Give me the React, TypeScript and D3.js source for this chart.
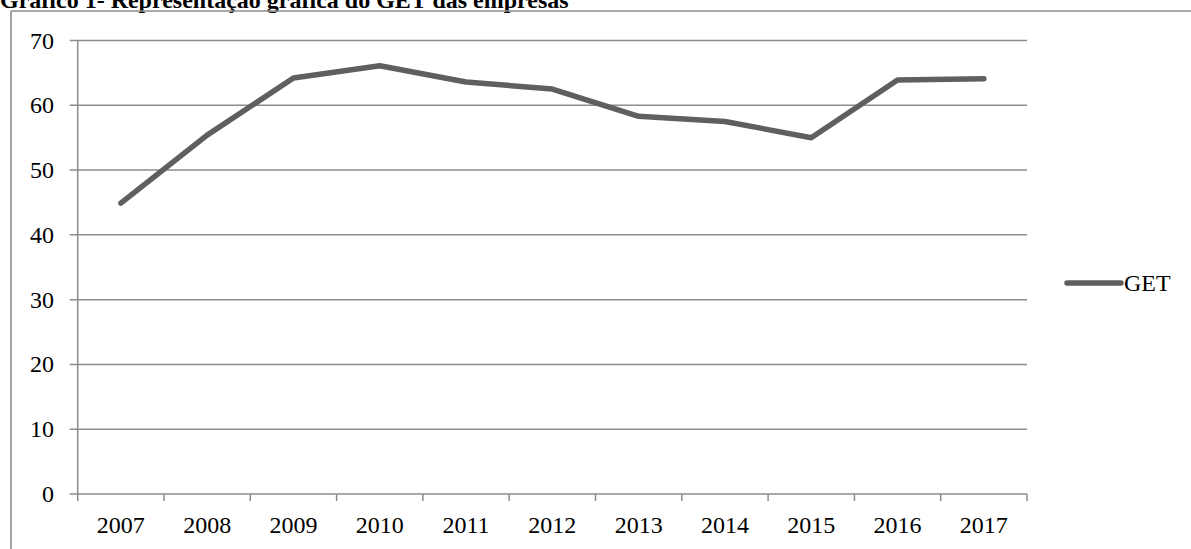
import React from "react";
import * as d3 from "d3";

const years = ["2007", "2008", "2009", "2010", "2011", "2012", "2013", "2014", "2015", "2016", "2017"];
const getValues = [44.9, 55.4, 64.2, 66.1, 63.6, 62.5, 58.3, 57.5, 55.0, 63.9, 64.1];
const yTicks = [0, 10, 20, 30, 40, 50, 60, 70];
const seriesName = "GET";
const title = "Gráfico 1- Representação gráfica do GET das empresas";

const W = 1191;
const H = 549;
const plot = { left: 77.7, right: 1027, top: 40.5, bottom: 494 };
const gridColor = "#8c8c8c";
const lineColor = "#5f5f5f";
const font = "'Liberation Serif', 'Times New Roman', serif";

export default function App() {
  const x = d3.scaleBand<string>().domain(years).range([plot.left, plot.right]).padding(0);
  const y = d3.scaleLinear().domain([0, 70]).range([plot.bottom, plot.top]);
  const line = d3
    .line<number>()
    .x((_, i) => (x(years[i]) as number) + x.bandwidth() / 2)
    .y((d) => y(d));

  const boundaries = years.map((yr) => x(yr) as number).concat([plot.right]);

  return (
    <svg
      width={W}
      height={H}
      style={{ position: "absolute", left: 0, top: 0, background: "#fff" }}
      fontFamily={font}
    >
      <text x={0} y={8} fontSize={24} fontWeight="bold" fill="#000">
        {title}
      </text>
      {/* frame */}
      <line x1={11} x2={W} y1={11} y2={11} stroke={gridColor} strokeWidth={1.6} />
      <line x1={11} x2={11} y1={11} y2={H} stroke={gridColor} strokeWidth={1.6} />

      {/* horizontal gridlines + y ticks */}
      {yTicks.map((t) => (
        <g key={t}>
          <line x1={plot.left - 8} x2={plot.right} y1={y(t)} y2={y(t)} stroke={gridColor} strokeWidth={1.5} />
          <text x={54} y={y(t) + 8} fontSize={24} textAnchor="end" fill="#000">
            {t}
          </text>
        </g>
      ))}
      {/* y axis */}
      <line x1={plot.left} x2={plot.left} y1={plot.top} y2={plot.bottom} stroke={gridColor} strokeWidth={1.5} />
      {/* x ticks */}
      {boundaries.map((bx, i) => (
        <line key={i} x1={bx} x2={bx} y1={plot.bottom} y2={plot.bottom + 7} stroke={gridColor} strokeWidth={1.5} />
      ))}
      {years.map((yr) => (
        <text
          key={yr}
          x={(x(yr) as number) + x.bandwidth() / 2}
          y={533}
          fontSize={24}
          textAnchor="middle"
          fill="#000"
        >
          {yr}
        </text>
      ))}

      {/* series */}
      <path
        d={line(getValues) as string}
        fill="none"
        stroke={lineColor}
        strokeWidth={5.5}
        strokeLinecap="round"
        strokeLinejoin="round"
      />

      {/* legend */}
      <line x1={1067} x2={1121} y1={283} y2={283} stroke={lineColor} strokeWidth={5.5} strokeLinecap="round" />
      <text x={1124} y={291} fontSize={24} fill="#000">
        {seriesName}
      </text>
    </svg>
  );
}
